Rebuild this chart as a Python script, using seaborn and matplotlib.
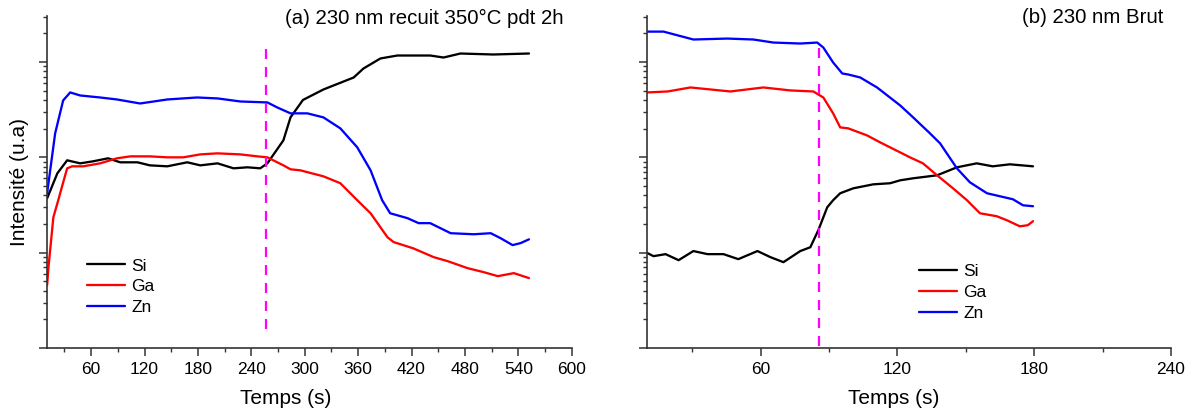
import matplotlib
matplotlib.use("Agg")
import matplotlib.pyplot as plt
import seaborn as sns
import pandas as pd
from matplotlib.ticker import MultipleLocator, LogLocator, NullFormatter

# ---------------- Panel (a): 230 nm recuit 350°C pdt 2h ----------------
t_si_a = [10.5, 22, 33, 47.6, 62, 79, 92.6, 112, 126, 145.5, 168, 182.6, 202, 220, 235.5,
          250, 258, 276, 284, 298, 321, 355, 366, 385, 404, 441, 456, 475, 512, 552]
si_a = [372, 680, 931, 865, 908, 977, 887, 887, 824, 805, 887, 824, 865, 767, 786,
        767, 865, 1507, 2624, 4000, 5150, 6880, 8550, 10890, 11700, 11700, 11150, 12280, 11990, 12280]

t_ga_a = [10.5, 12, 17.5, 23, 27, 33, 38.6, 51, 70, 89, 104, 126, 145.5, 163.5, 182.6, 202,
          227.6, 246.8, 258, 276, 284, 295, 321, 340, 359, 374, 393, 400, 422, 445, 460.5,
          483, 501, 517, 535, 552]
ga_a = [45.7, 70, 235, 355, 485, 767, 805, 805, 865, 977, 1024, 1024, 1000, 1000, 1074, 1101,
        1074, 1024, 1000, 824, 749, 731, 632, 535, 355, 259, 145, 129, 111, 89.7, 81.5,
        68.8, 62.5, 56.7, 61, 54.1]

t_zn_a = [10.5, 19.5, 28.5, 36.4, 47.6, 70, 89, 115, 145.5, 179, 202, 227.6, 258, 269, 284,
          303, 321, 340, 359, 374, 387, 396, 415.5, 428, 441, 464, 490, 509, 520, 533.6, 542.6, 552]
zn_a = [420, 1783, 3954, 4797, 4457, 4246, 4046, 3673, 4046, 4246, 4150, 3855, 3767, 3342, 2893,
        2893, 2624, 2014, 1274, 731, 355, 259, 230, 204, 204, 160, 156, 160, 142, 120, 126, 138]

mark_t_a = 256
mark_y_a = [13840, 13]

# ---------------- Panel (b): 230 nm Brut ----------------
t_si_b = [10.4, 13, 18.3, 24, 30.5, 36.7, 43.7, 50.2, 58.6, 64.3, 70, 77.4, 81.8, 85.3, 89.2,
          91.8, 94.9, 100.6, 109.4, 116.8, 121.2, 126.9, 137.4, 146.1, 154.8, 161.8, 169.3, 179.5]
si_b = [98.8, 91.9, 96.5, 83.4, 104, 96.5, 96.5, 85.5, 104, 89.7, 79.5, 104, 114, 172, 299,
        355, 420, 473, 521, 535, 574, 603, 648, 786, 865, 805, 845, 805]

t_ga_b = [10.4, 19.2, 29.2, 38, 46.7, 61.2, 73, 83.1, 87.5, 91.8, 94.9, 98.4, 106.7, 112.4,
          121.2, 125.5, 131.2, 137.4, 144.4, 150.5, 156.2, 163.6, 168, 173.7, 177.2, 179.5]
ga_b = [4797, 4909, 5408, 5152, 4909, 5408, 5035, 4909, 4246, 2893, 2061, 2014, 1698, 1436,
        1127, 1000, 865, 648, 473, 355, 259, 241, 219, 189, 194, 214]

t_zn_b = [10.4, 17.4, 30.5, 45.4, 56.8, 65.6, 77.4, 84.8, 87.5, 91.8, 95.8, 98.4, 103.7, 111.1,
          121.2, 126.9, 134.3, 138.7, 146.1, 151.8, 159.3, 170.7, 175.1, 179.5]
zn_b = [20840, 20840, 17220, 17620, 17220, 16000, 15630, 16000, 14190, 9886, 7580, 7400, 6880, 5400,
        3505, 2624, 1783, 1403, 767, 547, 420, 363, 314, 307]

mark_t_b = 85.7
mark_y_b = [14190, 10.3]

elements = ["Si", "Ga", "Zn"]
colors = {"Si": "#000000", "Ga": "#FF0000", "Zn": "#0000FF"}
titles = ["(a) 230 nm recuit 350°C pdt 2h", "(b) 230 nm Brut"]

sns.set_style("ticks")
plt.rcParams["font.family"] = ["Liberation Sans", "DejaVu Sans"]
plt.rcParams["text.color"] = "black"
plt.rcParams["axes.labelcolor"] = "black"
plt.rcParams["xtick.labelcolor"] = "black"
plt.rcParams["ytick.labelcolor"] = "black"

fig = plt.figure(figsize=(11.94, 4.13), dpi=100)
ax_a = fig.add_axes([0.0391, 0.1574, 0.4397, 0.8039])
ax_b = fig.add_axes([0.5416, 0.1574, 0.4391, 0.8039])

def long_df(tlists, vlists):
    frames = []
    for el, t, v in zip(elements, tlists, vlists):
        frames.append(pd.DataFrame({"t": t, "I": v, "el": el}))
    return pd.concat(frames, ignore_index=True)

df_a = long_df([t_si_a, t_ga_a, t_zn_a], [si_a, ga_a, zn_a])
df_b = long_df([t_si_b, t_ga_b, t_zn_b], [si_b, ga_b, zn_b])

panels = [
    (ax_a, df_a, mark_t_a, mark_y_a, (10, 600), 60, titles[0], (0.077, 0.27), 0.455),
    (ax_b, df_b, mark_t_b, mark_y_b, (10, 240), 60, titles[1], (0.519, 0.252), 0.471),
]

for ax, df, mt, my, xl, xstep, title, legpos, xlab_x in panels:
    sns.lineplot(data=df, x="t", y="I", hue="el", palette=colors, hue_order=elements,
                 ax=ax, linewidth=1.65, sort=False, estimator=None)
    ax.plot([mt, mt], my, color="#FF00FF", linewidth=1.6, dashes=(4.5, 3.6))
    ax.set_yscale("log")
    ax.set_ylim(10, 30400)
    ax.set_xlim(*xl)
    ax.xaxis.set_major_locator(MultipleLocator(xstep))
    ax.xaxis.set_minor_locator(MultipleLocator(xstep / 2))
    ax.yaxis.set_major_locator(LogLocator(base=10, numticks=10))
    ax.yaxis.set_minor_locator(LogLocator(base=10, subs=range(2, 10), numticks=20))
    ax.yaxis.set_major_formatter(NullFormatter())
    ax.yaxis.set_minor_formatter(NullFormatter())
    ax.set_xticks([x for x in range(xstep, xl[1] + 1, xstep)])
    for s in ["top", "right"]:
        ax.spines[s].set_visible(False)
    for s in ["left", "bottom"]:
        ax.spines[s].set_linewidth(1.2)
        ax.spines[s].set_color("#333333")
    ax.tick_params(axis="both", which="major", direction="out", length=6, width=1.1,
                   color="#333333", labelsize=12.5, pad=4, labelcolor="black")
    ax.tick_params(axis="both", which="minor", direction="out", length=3.2, width=1.0,
                   color="#333333")
    ax.set_xlabel("Temps (s)", fontsize=15, color="black")
    ax.xaxis.set_label_coords(xlab_x, -0.151)
    ax.xaxis.label.set_va("center")
    ax.set_ylabel("")
    ax.text(0.985, 0.994, title, transform=ax.transAxes, ha="right", va="center",
            fontsize=14.7, color="black")
    leg = ax.legend(loc="upper left", bbox_to_anchor=legpos, frameon=False, fontsize=12.5,
                    handlelength=2.2, handletextpad=0.35, labelspacing=0.32,
                    borderpad=0, borderaxespad=0, title=None)
    for txt in leg.get_texts():
        txt.set_color("black")

ax_a.set_ylabel("Intensité (u.a)", fontsize=15, labelpad=3, color="black")

fig.savefig("out.png", dpi=100)
